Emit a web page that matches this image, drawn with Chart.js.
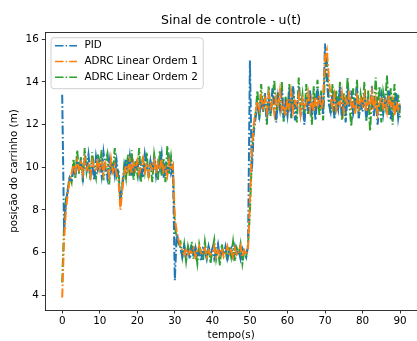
<!DOCTYPE html>
<html>
<head>
<meta charset="utf-8">
<script src="https://cdn.jsdelivr.net/npm/chart.js@4"></script>
<style>
  html, body { margin: 0; padding: 0; background: #fff; }
  canvas { display: block; }
</style>
</head>
<body>
<canvas id="grafico" width="417" height="341"></canvas>
<script>
// tempo de amostragem: 0 a 90 s, passo de 0.5 s
const tempo = Array.from({ length: 181 }, (_, i) => i * 0.5);

const xTicks = [0, 10, 20, 30, 40, 50, 60, 70, 80, 90];
const yTicks = [4, 6, 8, 10, 12, 14, 16];

const nomes = ['PID', 'ADRC Linear Ordem 1', 'ADRC Linear Ordem 2'];

// valores (10 por linha = 5 s)
const pid = [
  13.4, 7.0, 8.4, 8.9, 9.5, 9.3, 9.9, 9.6, 10.3, 9.8,
  10.2, 9.5, 10.4, 9.9, 10.6, 9.7, 10.1, 9.4, 10.5, 9.9,
  10.3, 9.6, 10.7, 10.0, 9.5, 10.4, 9.8, 10.2, 9.6, 10.3,
  9.5, 8.5, 9.1, 9.8, 10.4, 9.7, 10.5, 9.6, 10.2, 9.9,
  10.4, 9.6, 10.1, 9.5, 10.6, 10.0, 9.7, 10.3, 9.8, 10.5,
  9.6, 10.2, 9.9, 10.6, 9.5, 10.1, 9.8, 10.4, 9.7, 10.0,
  4.7, 6.9, 6.5, 6.2, 5.8, 6.3, 5.9, 6.1, 5.7, 6.2,
  5.8, 6.3, 5.9, 6.0, 5.6, 6.2, 6.1, 5.7, 6.3, 5.9,
  6.2, 5.7, 6.0, 6.4, 5.8, 6.1, 5.9, 6.3, 5.7, 6.0,
  6.2, 5.8, 6.3, 5.9, 6.1, 5.7, 6.2, 6.0, 5.8, 6.3,
  15.0, 9.8, 11.6, 12.3, 12.9, 12.4, 13.2, 12.6, 13.5, 12.2,
  13.1, 12.5, 13.7, 12.8, 12.1, 13.3, 12.7, 13.6, 12.3, 13.0,
  12.4, 13.4, 12.7, 13.8, 12.2, 12.9, 13.5, 12.5, 13.1, 12.0,
  13.3, 12.6, 13.6, 12.4, 13.0, 12.2, 13.7, 12.8, 13.2, 12.5,
  15.8, 14.0, 13.0, 12.6, 13.5, 12.3, 13.1, 12.7, 13.8, 12.4,
  13.2, 12.1, 13.4, 12.8, 13.6, 12.5, 12.9, 13.7, 12.3, 13.0,
  12.6, 13.5, 12.2, 13.1, 12.7, 13.8, 12.4, 13.3, 12.0, 12.9,
  13.4, 12.5, 13.2, 12.8, 13.6, 12.2, 13.0, 12.6, 13.5, 12.3,
  12.9
];

const adrc1 = [
  3.9, 6.6, 8.0, 8.8, 9.4, 9.7, 10.1, 9.8, 10.3, 9.9,
  10.2, 9.7, 10.4, 9.9, 10.1, 9.6, 10.3, 10.0, 9.8, 10.4,
  9.9, 10.3, 9.7, 10.2, 10.0, 9.6, 10.4, 9.8, 10.1, 9.7,
  9.4, 8.0, 8.9, 9.7, 10.1, 9.8, 10.3, 9.7, 10.2, 9.9,
  10.3, 9.7, 10.0, 10.4, 9.8, 10.2, 9.6, 10.1, 9.9, 10.3,
  9.7, 10.2, 9.9, 10.4, 9.8, 10.0, 9.6, 10.3, 9.9, 10.1,
  7.6, 7.0, 6.6, 6.3, 6.1, 5.9, 6.2, 5.9, 6.1, 6.0,
  6.2, 5.8, 6.1, 6.3, 5.9, 6.0, 6.2, 5.8, 6.1, 5.9,
  6.0, 6.3, 5.8, 6.1, 5.9, 6.2, 5.8, 6.0, 6.3, 5.9,
  6.1, 5.8, 6.2, 5.9, 6.0, 6.3, 5.8, 6.1, 5.9, 6.2,
  8.4, 10.8, 12.0, 12.6, 13.1, 12.7, 13.3, 12.8, 13.2, 12.6,
  13.4, 12.8, 13.1, 12.5, 13.3, 12.9, 13.6, 12.7, 13.0, 12.4,
  13.2, 12.8, 13.5, 12.6, 13.1, 12.9, 13.4, 12.5, 13.2, 12.8,
  13.0, 13.5, 12.7, 13.2, 12.6, 13.3, 12.9, 13.4, 12.7, 13.1,
  15.2, 15.5, 14.2, 13.3, 12.8, 13.4, 12.7, 13.1, 12.9, 13.5,
  12.6, 13.2, 12.9, 13.6, 12.7, 13.0, 12.5, 13.3, 12.8, 13.2,
  12.9, 13.4, 12.6, 13.1, 12.8, 13.5, 12.7, 13.2, 12.5, 13.0,
  13.3, 12.8, 13.1, 12.6, 13.4, 12.9, 13.2, 12.4, 13.1, 12.7,
  13.0
];

const adrc2 = [
  4.6, 7.3, 8.5, 9.0, 9.6, 9.3, 10.4, 9.5, 10.8, 9.7,
  10.5, 9.3, 10.9, 9.8, 10.3, 9.4, 10.7, 9.9, 9.5, 10.6,
  9.8, 10.8, 9.4, 10.2, 10.6, 9.2, 10.4, 9.7, 10.9, 9.6,
  9.9, 8.3, 9.2, 10.1, 9.5, 10.6, 9.6, 10.8, 9.4, 10.3,
  9.7, 10.9, 9.3, 10.5, 9.8, 10.7, 9.5, 10.2, 9.3, 10.6,
  10.0, 9.4, 10.8, 9.6, 10.4, 9.3, 11.0, 9.7, 10.5, 9.8,
  7.2, 6.7, 6.4, 6.5, 5.8, 6.4, 5.6, 6.3, 5.9, 6.5,
  5.7, 6.2, 5.5, 6.4, 6.0, 5.6, 6.5, 5.8, 6.3, 5.5,
  6.1, 6.6, 5.7, 6.2, 5.4, 6.4, 5.9, 6.1, 5.6, 6.3,
  5.8, 6.5, 5.6, 6.2, 5.9, 6.4, 5.5, 6.1, 5.8, 6.4,
  7.9, 10.4, 11.8, 12.5, 13.6, 12.2, 13.9, 12.6, 13.4, 12.0,
  13.8, 12.4, 13.2, 14.1, 12.2, 13.5, 12.8, 14.0, 12.1, 13.3,
  12.6, 13.9, 12.3, 13.7, 12.9, 12.1, 14.2, 12.7, 13.4, 12.3,
  13.9, 12.5, 13.3, 12.0, 13.8, 12.6, 14.1, 12.4, 13.6, 12.2,
  14.6, 15.0, 13.2, 12.5, 13.9, 12.3, 13.6, 12.8, 14.0, 12.2,
  13.5, 12.4, 14.2, 12.9, 11.9, 13.7, 12.6, 14.1, 12.3, 13.4,
  12.8, 14.0, 12.2, 13.6, 11.7, 13.3, 12.7, 14.2, 12.5, 13.8,
  12.1, 13.5, 12.9, 14.3, 12.4, 13.7, 12.0, 13.9, 12.6, 13.4,
  12.3
];

const cores = ['#1f77b4', '#ff7f0e', '#2ca02c'];
const tracoPontilhado = [9, 2.4, 1.6, 2.4];

Chart.defaults.font.family = '"DejaVu Sans", sans-serif';
Chart.defaults.color = '#000';

function serie(valores) {
  return valores.map((v, i) => ({ x: tempo[i], y: v }));
}

// legenda dentro do eixo, como no matplotlib (canto superior esquerdo)
const legendaInterna = {
  id: 'legendaInterna',
  afterDraw(chart) {
    const ctx = chart.ctx;
    const area = chart.chartArea;
    ctx.save();
    // borda superior do eixo
    ctx.strokeStyle = '#000';
    ctx.lineWidth = 0.8;
    ctx.beginPath();
    ctx.moveTo(area.left, area.top + 0.5);
    ctx.lineTo(area.right, area.top + 0.5);
    ctx.stroke();

    ctx.font = '10.4px "DejaVu Sans"';
    const larguraTexto = Math.max(...nomes.map(n => ctx.measureText(n).width));
    const x0 = area.left + 5.2;
    const y0 = area.top + 5.2;
    const w = 34.5 + larguraTexto + 4.5;
    const h = 51;
    ctx.beginPath();
    ctx.roundRect(x0 + 0.5, y0 + 0.5, w, h, 3);
    ctx.fillStyle = 'rgba(255,255,255,0.8)';
    ctx.fill();
    ctx.strokeStyle = '#d0d0d0';
    ctx.lineWidth = 1;
    ctx.stroke();

    ctx.textBaseline = 'middle';
    ctx.textAlign = 'left';
    nomes.forEach((nome, i) => {
      const y = y0 + 8.5 + i * 15.8;
      ctx.strokeStyle = cores[i];
      ctx.lineWidth = 1.4;
      ctx.setLineDash([8.5, 2.2, 1.4, 2.2]);
      ctx.beginPath();
      ctx.moveTo(x0 + 4.5, y);
      ctx.lineTo(x0 + 26.5, y);
      ctx.stroke();
      ctx.setLineDash([]);
      ctx.fillStyle = '#000';
      ctx.fillText(nome, x0 + 34, y);
    });
    ctx.restore();
  }
};

const ctx = document.getElementById('grafico').getContext('2d');
new Chart(ctx, {
  type: 'line',
  data: {
    datasets: [
      { label: nomes[0], data: serie(pid), borderColor: cores[0], order: 2 },
      { label: nomes[1], data: serie(adrc1), borderColor: cores[1], order: 1 },
      { label: nomes[2], data: serie(adrc2), borderColor: cores[2], order: 3 }
    ].map(d => Object.assign(d, {
      borderWidth: 2,
      borderDash: tracoPontilhado,
      pointRadius: 0,
      tension: 0,
      fill: false
    }))
  },
  options: {
    responsive: false,
    animation: false,
    layout: { padding: { left: 0, right: -2, top: 0, bottom: 0 } },
    plugins: {
      legend: { display: false },
      tooltip: { enabled: false },
      title: {
        display: true,
        text: 'Sinal de controle - u(t)',
        fullSize: false,
        font: { size: 12.5, weight: 'normal' },
        padding: { top: 13, bottom: 4 }
      }
    },
    scales: {
      x: {
        type: 'linear',
        min: -4.5,
        max: 94.5,
        afterBuildTicks: (axis) => { axis.ticks = xTicks.map(v => ({ value: v })); },
        afterFit: (axis) => { axis.height = 31; },
        grid: { drawOnChartArea: false, tickLength: 3.5, color: '#000', lineWidth: 0.8 },
        border: { color: '#000', width: 0.8 },
        ticks: { font: { size: 10.4 }, padding: 2, maxRotation: 0 },
        title: { display: true, text: 'tempo(s)', font: { size: 10.4 }, padding: { top: 0, bottom: -1 } }
      },
      y: {
        type: 'linear',
        min: 3.31,
        max: 16.34,
        afterBuildTicks: (axis) => { axis.ticks = yTicks.map(v => ({ value: v })); },
        afterFit: (axis) => { axis.width = 45.3; },
        grid: { drawOnChartArea: false, tickLength: 3.5, color: '#000', lineWidth: 0.8 },
        border: { color: '#000', width: 0.8 },
        ticks: { font: { size: 10.4 }, padding: 3 },
        title: { display: true, text: 'posição do carrinho (m)', font: { size: 10.4 }, padding: { top: 8.5, bottom: 0 } }
      }
    }
  },
  plugins: [legendaInterna]
});
</script>
</body>
</html>
